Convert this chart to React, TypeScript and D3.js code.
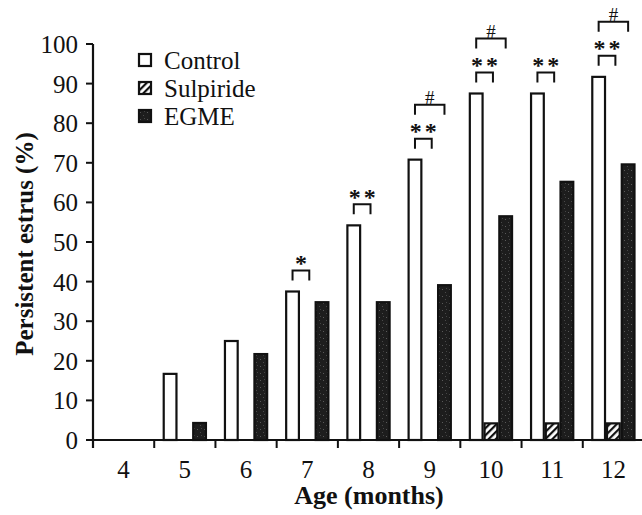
import React from "react";
import * as d3 from "d3";

const categories = ["4", "5", "6", "7", "8", "9", "10", "11", "12"];
const seriesNames = ["Control", "Sulpiride", "EGME"];
const controlValues = [0, 16.7, 25, 37.5, 54.2, 70.8, 87.5, 87.5, 91.7];
const sulpirideValues = [0, 0, 0, 0, 0, 0, 4.2, 4.2, 4.2];
const egmeValues = [0, 4.3, 21.7, 34.8, 34.8, 39.1, 56.5, 65.2, 69.6];
const starMarks = ["", "", "", "*", "**", "**", "**", "**", "**"];
const hashMarks = [false, false, false, false, false, true, true, false, true];
const yTicks = [0, 10, 20, 30, 40, 50, 60, 70, 80, 90, 100];

const W = 642;
const H = 515;
const FONT = "Liberation Serif";

export default function App() {
  const x0 = 93;
  const x1 = 644;
  const yBase = 440;
  const yTop = 44;

  const x = d3.scaleBand<string>().domain(categories).range([x0, x1]).paddingInner(0).paddingOuter(0);
  const bw = x.bandwidth();
  const xs = d3.scaleBand<string>().domain(seriesNames).range([8.5, bw - 8.5]).padding(0);
  const y = d3.scaleLinear().domain([0, 100]).range([yBase, yTop]);
  const sw = xs.bandwidth();

  const seriesData: Record<string, number[]> = {
    Control: controlValues,
    Sulpiride: sulpirideValues,
    EGME: egmeValues,
  };
  const fills: Record<string, string> = {
    Control: "#ffffff",
    Sulpiride: "url(#hatch)",
    EGME: "url(#grain)",
  };

  const boundaries = d3.range(categories.length + 1).map((i) => x0 + i * bw);
  const txt = (size: number, bold = false): React.CSSProperties => ({
    fontFamily: FONT,
    fontSize: size,
    fontWeight: bold ? "bold" : "normal",
  });

  return (
    <svg
      width={W}
      height={H}
      style={{ fontFamily: FONT, position: "absolute", left: 0, top: 0, background: "#fff" }}
    >
      <defs>
        <pattern id="hatch" patternUnits="userSpaceOnUse" width="5" height="5" patternTransform="rotate(45)">
          <rect width="5" height="5" fill="#fff" />
          <rect x="0" y="0" width="2.2" height="5" fill="#111" />
        </pattern>
        <pattern id="grain" patternUnits="userSpaceOnUse" width="7" height="7">
          <rect width="7" height="7" fill="#1d1d1d" />
          <rect x="1" y="2" width="1" height="1" fill="#5a5a5a" />
          <rect x="4" y="5" width="1" height="1" fill="#4a4a4a" />
          <rect x="5" y="1" width="1" height="1" fill="#444" />
        </pattern>
      </defs>

      {/* bars */}
      {categories.map((c, i) => (
        <g key={c}>
          {seriesNames.map((s) => {
            const v = seriesData[s][i];
            if (v <= 0) return null;
            const bx = (x(c) as number) + (xs(s) as number);
            return (
              <rect
                key={s}
                x={bx + 1}
                y={y(v)}
                width={sw - 2}
                height={yBase - y(v)}
                fill={fills[s]}
                stroke="#111"
                strokeWidth={2.2}
              />
            );
          })}
        </g>
      ))}

      {/* significance marks */}
      {categories.map((c, i) => {
        const out: React.ReactNode[] = [];
        const cx = (x(c) as number) + (xs("Control") as number) + sw / 2;
        const sx = (x(c) as number) + (xs("Sulpiride") as number) + sw / 2 + 2;
        const ex = (x(c) as number) + (xs("EGME") as number) + sw / 2;
        const top = y(controlValues[i]);
        if (starMarks[i]) {
          const legB = top - 11;
          const brT = top - 21;
          out.push(
            <path key="sb" d={`M${cx},${legB}V${brT}H${sx}V${legB}`} fill="none" stroke="#111" strokeWidth={2} />
          );
          out.push(
            <text
              key="st"
              x={(cx + sx) / 2 + (starMarks[i].length > 1 ? 1.5 : 0)}
              y={brT + 0.5}
              textAnchor="middle"
              style={{ ...txt(24, true), letterSpacing: starMarks[i].length > 1 ? 3 : 0 }}
              fill="#111"
            >
              {starMarks[i]}
            </text>
          );
          if (hashMarks[i]) {
            const hT = brT - 34;
            const hB = hT + 10;
            out.push(
              <path key="hb" d={`M${cx},${hB}V${hT}H${ex}V${hB}`} fill="none" stroke="#111" strokeWidth={2} />
            );
            out.push(
              <text key="ht" x={(cx + ex) / 2} y={hT - 1} textAnchor="middle" style={txt(19)} fill="#111">
                #
              </text>
            );
          }
        }
        return <g key={"m" + c}>{out}</g>;
      })}

      {/* y axis */}
      <line x1={x0} x2={x0} y1={yTop} y2={yBase + 8} stroke="#111" strokeWidth={2.2} />
      {yTicks.map((t) => (
        <g key={t}>
          <line x1={x0 - 7} x2={x0} y1={y(t)} y2={y(t)} stroke="#111" strokeWidth={2} />
          <text x={78} y={y(t) + 9} textAnchor="end" style={txt(25)} fill="#111">
            {t}
          </text>
        </g>
      ))}

      {/* x axis */}
      <line x1={x0} x2={x1} y1={yBase} y2={yBase} stroke="#111" strokeWidth={2.2} />
      {boundaries.map((b, i) => (
        <line key={i} x1={b} x2={b} y1={yBase} y2={yBase + 8} stroke="#111" strokeWidth={2} />
      ))}
      {categories.map((c) => (
        <text key={c} x={(x(c) as number) + bw / 2} y={478} textAnchor="middle" style={txt(25)} fill="#111">
          {c}
        </text>
      ))}

      {/* axis titles */}
      <text x={369} y={504} textAnchor="middle" style={txt(26, true)} fill="#111">
        Age (months)
      </text>
      <text transform={`translate(33,244) rotate(-90)`} textAnchor="middle" style={txt(25, true)} fill="#111">
        Persistent estrus (%)
      </text>

      {/* legend */}
      {seriesNames.map((s, i) => (
        <g key={s} transform={`translate(139,${54 + i * 28})`}>
          <rect x={0} y={0} width={12} height={12} fill={fills[s]} stroke="#111" strokeWidth={2.2} />
          <text x={25} y={15} style={txt(25)} fill="#111">
            {s}
          </text>
        </g>
      ))}
    </svg>
  );
}
